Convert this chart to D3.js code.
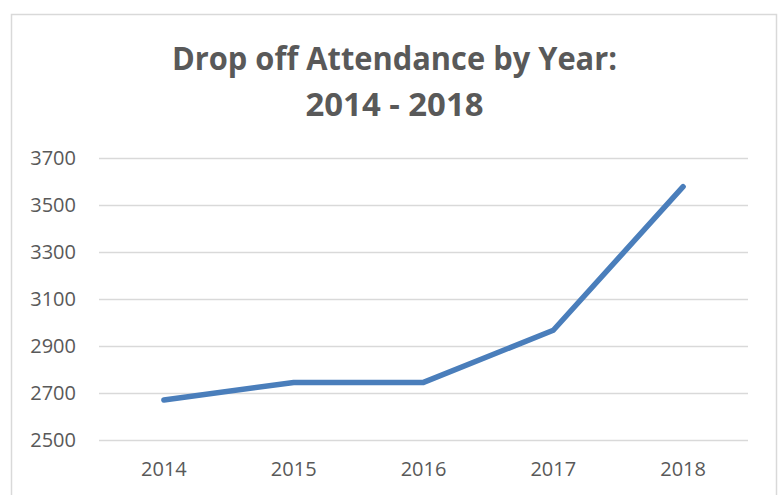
<!DOCTYPE html>
<html>
<head>
<meta charset="utf-8">
<script src="https://cdn.jsdelivr.net/npm/d3@7"></script>
<style>
  body { margin: 0; background: #fff; }
  text { font-family: "Open Sans", sans-serif; fill: #595959; }
</style>
</head>
<body>
<svg id="chart"></svg>
<script>
const width = 783;
const height = 495;

// data
const years = ["2014", "2015", "2016", "2017", "2018"];
const attendance = [2670, 2745, 2745, 2967, 3578];
const yTicks = [2500, 2700, 2900, 3100, 3300, 3500, 3700];
const titleLines = ["Drop off Attendance by Year:", "2014 - 2018"];

const plot = { left: 99, right: 748, top: 158, bottom: 440 };

const svg = d3.select("#chart")
    .attr("width", width)
    .attr("height", height);

// chart area border (bottom edge runs off the picture)
svg.append("rect")
    .attr("x", 11.5)
    .attr("y", 14.5)
    .attr("width", 765)
    .attr("height", 500)
    .attr("fill", "#fff")
    .attr("stroke", "#d9d9d9")
    .attr("stroke-width", 1.5);

const x = d3.scaleBand()
    .domain(years)
    .range([plot.left, plot.right]);

const y = d3.scaleLinear()
    .domain([2500, 3700])
    .range([plot.bottom, plot.top]);

// gridlines + y labels
const yAxis = svg.append("g")
    .attr("transform", `translate(${plot.left},0)`)
    .call(d3.axisLeft(y)
        .tickValues(yTicks)
        .tickSize(-(plot.right - plot.left))
        .tickPadding(23)
        .tickFormat(d3.format("d")));
yAxis.select(".domain").remove();
yAxis.selectAll(".tick line").attr("stroke", "#d9d9d9").attr("stroke-width", 1.5);
yAxis.selectAll(".tick text")
    .style("font-size", "20px")
    .style("font-family", "'Open Sans', sans-serif")
    .attr("fill", "#595959");

// x labels
const xAxis = svg.append("g")
    .attr("transform", `translate(0,${plot.bottom})`)
    .call(d3.axisBottom(x).tickSize(0).tickPadding(22));
xAxis.select(".domain").remove();
xAxis.selectAll(".tick text")
    .style("font-size", "20px")
    .style("font-family", "'Open Sans', sans-serif")
    .attr("fill", "#595959");

// the line
const line = d3.line()
    .x((d, i) => x(years[i]) + x.bandwidth() / 2)
    .y(d => y(d));

svg.append("path")
    .datum(attendance)
    .attr("d", line)
    .attr("fill", "none")
    .attr("stroke", "#4a7ebb")
    .attr("stroke-width", 5.5)
    .attr("stroke-linecap", "round")
    .attr("stroke-linejoin", "round");

// title, squeezed to the widths seen in the picture
const titleWidths = [445, 178];
svg.selectAll(".title")
    .data(titleLines)
    .enter().append("text")
    .attr("class", "title")
    .attr("x", 394.5)
    .attr("y", (d, i) => 70 + i * 46)
    .attr("text-anchor", "middle")
    .style("font-size", "33px")
    .style("font-weight", "bold")
    .attr("textLength", (d, i) => titleWidths[i])
    .attr("lengthAdjust", "spacingAndGlyphs")
    .text(d => d);
</script>
</body>
</html>
